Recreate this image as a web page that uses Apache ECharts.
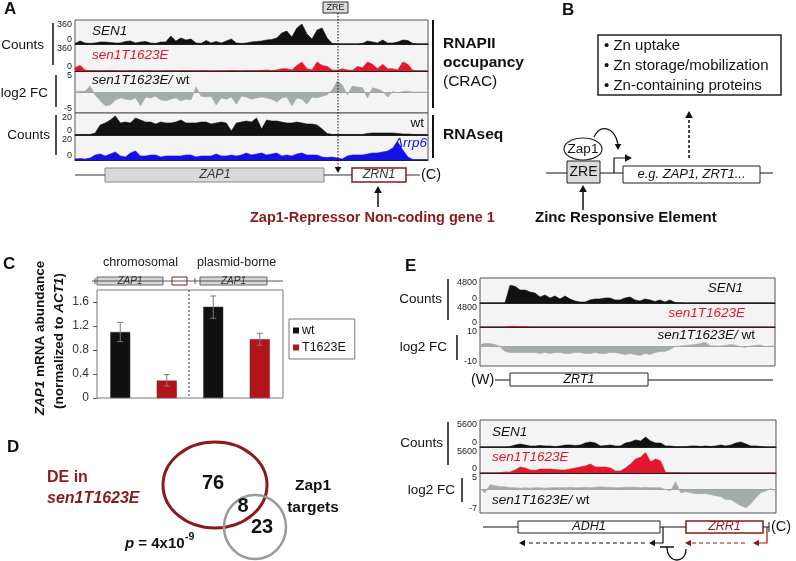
<!DOCTYPE html>
<html><head><meta charset="utf-8">
<script src="https://cdn.jsdelivr.net/npm/echarts@6/dist/echarts.min.js"></script>
<style>html,body{margin:0;padding:0;background:#fff}#c{width:796px;height:561px}</style>
</head><body><div id="c"></div>
<script>
// ---------------- DATA ----------------
// Panel A: ZAP1 locus tracks (evenly spaced bins, left to right)
const aCountTicks = [0, 360];
const aFcTicks = [-5, 5];
const aSeqTicks = [0, 20];
const aSen1 = [8,45,15,8,15,30,30,22,15,15,38,45,15,30,38,15,8,30,30,120,45,90,60,75,15,8,52,15,38,15,45,75,15,8,15,30,38,45,60,68,90,165,195,105,240,300,150,75,210,240,90,8,0,0,0,0,0,8,45,30,15,60,15,15,30,60,52,8,0,0,0];
const aSen1T = [45,75,15,5,3,0,5,8,3,0,0,5,3,0,5,3,0,0,3,5,0,3,8,5,0,3,5,0,0,3,5,8,3,0,5,3,5,8,15,5,15,30,30,15,75,120,30,15,120,75,60,15,8,30,15,8,60,45,120,90,30,90,30,30,15,120,90,8,0,0,0];
const aFc = [0.2,0.2,0.2,1.4,-0.7,-2.1,-3.3,-3.1,-1.9,-1.4,-1.7,-1.9,-1.4,-3.3,-1.2,-1.4,-1,-1.9,-2.1,-1.7,-1.4,-2.1,-1.7,-1.9,1.2,-1,-1.2,-1,-3.1,-1.4,-1.7,-1.2,-2.9,-1,-1.2,-1.7,-1.4,-1.2,-1.4,-1.7,-2.4,-1.4,-1.2,-3.3,-1.4,-1.7,-2.9,-1.2,-1.4,-1,-0.7,0.5,2.6,1.7,-0.7,1.4,1.2,1,-1.4,1,0.7,0.2,-1.2,0.1,-0.2,0.1,0.2,0,0,0,0];
const aWt = [0.3,0.5,0.5,0.5,1.8,9.1,10.9,13.6,17.3,10.9,11.8,10.9,15.5,13.6,11.8,11.8,10,11.8,10.9,10.9,11.8,13.6,10.9,10.9,10.9,11.8,11.8,10,10.9,11.8,10.9,3.6,10.9,11.8,12.7,11.8,15.5,5.5,13.6,12.7,12.7,11.8,10.9,10.9,11.8,10.9,10,10,9.1,5.5,1.4,0.5,0.5,0.5,0.5,0.5,0.5,0.5,1.4,1.8,1.8,1.8,1.8,1.8,1.4,0.9,0.9,0.5,0.5,0.5,0.5];
const aRrp6 = [0.8,1.2,0.8,1.6,4,4.8,3.2,4.8,6.4,3.2,2.4,5.6,7.2,3.2,3.2,4,4,2.4,3.2,3.2,3.2,3.2,4,4,2.4,3.2,3.2,3.2,4.8,3.2,3.2,4,3.2,4,5.6,4,4.8,5.6,4,4.8,5.6,3.2,4,3.2,4.8,5.6,4,4,4,2.4,2,2.4,1.6,0.8,3.2,4,4,4,4.8,5.6,5.6,6.4,7.2,9.6,14.4,8,2.4,0.4,0.4,0.4,0.4];

// Panel C: ZAP1 mRNA abundance
const cCategories = ['chromosomal wt', 'chromosomal T1623E', 'plasmid wt', 'plasmid T1623E'];
const cWt = [1.10, '-', 1.52, '-'];
const cMut = ['-', 0.29, '-', 0.98];
const cErrLow = [0.94, 0.20, 1.33, 0.88];
const cErrHigh = [1.26, 0.39, 1.70, 1.08];
const cAxis = [0, 1.8, 0.4];

// Panel D: Venn counts
const vennCounts = ['76', '8', '23'];

// Panel E (top): ZRT1 locus
const e1CountTicks = [0, 4800];
const e1FcTicks = [-10, 10];
const e1Sen1 = [0,0,0,0,0,0,3400,3200,2500,2500,2110,1920,1150,1540,960,1340,770,1340,770,380,190,190,580,770,770,960,960,580,580,960,1150,580,380,770,580,290,580,190,580,100,60,0,0,0,0,0,0,0,0,0,0,0,0,0,0,0,0,0,0,0];
const e1Mut = [0,0,0,0,0,0,130,150,100,100,0,0,0,0,0,0,0,0,0,0,0,0,0,0,0,0,0,0,0,0,0,0,0,0,0,0,0,0,0,0,0,0,0,0,0,0,0,0,0,0,0,0,0,0,0,0,0,0,0,0];
const e1Fc = [1,1.5,1.5,1,0,-2.6,-3.1,-3.1,-3.1,-3.1,-3.1,-3.1,-3.6,-3.1,-3.6,-3.1,-3.1,-3.6,-3.6,-3.1,-3.1,-3.6,-3.6,-3.1,-3.6,-3.6,-3.1,-3.1,-3.6,-4.1,-3.6,-4.1,-4.6,-3.6,-4.1,-3.1,-2.6,-2.6,-1.5,0,0.3,0.5,0.8,1,1.5,2.1,0.5,0.3,0.3,0.5,1,0.8,0,-0.5,0.3,0.5,0.8,0,0.3,0.3];

// Panel E (bottom): ADH1 / ZRR1 locus
const e2CountTicks = [0, 5600];
const e2FcTicks = [-7, 5];
const e2Sen1 = [0,0,0,0,0,0,100,410,620,410,210,210,310,210,210,60,210,410,410,310,410,830,1040,830,210,310,410,210,210,830,1040,1450,1240,2070,1240,830,830,210,210,60,60,60,210,210,100,210,100,210,410,210,410,830,1040,620,210,210,100,0,0,0];
const e2Mut = [0,0,0,0,60,220,220,650,1290,1080,650,540,860,860,860,750,650,650,860,1080,1290,1510,1940,1290,1290,1290,1080,430,430,1080,1940,3000,3400,4400,2400,3000,2600,110,60,110,0,0,0,0,0,0,0,0,0,0,0,0,0,0,0,0,0,0,0,0];
const e2Fc = [0.3,-0.9,1.5,1.2,0.9,0.9,0.6,0.6,0.45,0.6,0.45,0.6,0.6,0.45,0.6,0.6,0.6,0.6,0.75,0.6,0.6,0.75,0.6,0.75,0.9,0.75,0.75,0.6,0.6,0.75,0.75,0.75,0.6,0.75,0.6,0.6,0.6,0,-0.3,2.4,-0.9,-0.6,-0.9,-1.2,-1.2,-1.2,-1.5,-1.8,-2.1,-3,-3,-3.9,-4.8,-5.4,-4.2,-2.4,-0.9,-0.3,0.3,-0.3];

// ---------------- BUILD ----------------
const FONT = '"Liberation Sans", Arial, Helvetica, sans-serif';
const RED = '#e3162b', DRED = '#8b1a1a', BLUE = '#1212e8', GREY = '#a4aca8';
const grids = [], xAxes = [], yAxes = [], series = [];

function track(left, right, top, height, vals, ticks, color, isFc, lblSize) {
  const k = grids.length;
  const mn = ticks[0], mx = ticks[1];
  grids.push({left, right, top, height, show: true, backgroundColor: '#f4f4f4', borderColor: '#555', borderWidth: 1});
  xAxes.push({type: 'category', gridIndex: k, data: vals.map((_, i) => i), boundaryGap: false,
    axisLine: {show: true, onZero: true, lineStyle: {color: isFc ? '#a0a0a0' : '#222', width: 1}},
    axisTick: {show: false}, axisLabel: {show: false}, splitLine: {show: false}});
  yAxes.push({type: 'value', gridIndex: k, min: mn, max: mx, interval: isFc ? 1 : (mx - mn),
    axisLine: {show: false}, axisTick: {show: false}, splitLine: {show: false},
    axisLabel: {show: true, margin: 3, fontSize: lblSize || 9, color: '#222', fontFamily: FONT,
      showMinLabel: true, showMaxLabel: true,
      verticalAlignMinLabel: 'bottom', verticalAlignMaxLabel: 'top',
      formatter: v => (v === mn ? String(mn) : (v === mx ? String(mx) : ''))}});
  series.push({type: 'line', xAxisIndex: k, yAxisIndex: k, data: vals, symbol: 'none', silent: true,
    lineStyle: {color, width: 0.6}, areaStyle: {color, opacity: 1}, z: 2});
}

// Panel A tracks
track(75, 368, 20, 24, aSen1, aCountTicks, '#111', false);
track(75, 368, 44, 27, aSen1T, aCountTicks, RED, false);
track(75, 368, 71, 42, aFc, aFcTicks, GREY, true);
track(75, 368, 113, 22, aWt, aSeqTicks, '#111', false);
track(75, 368, 135, 25, aRrp6, aSeqTicks, BLUE, false);
// Panel E tracks
track(480, 21, 278, 25, e1Sen1, e1CountTicks, '#111', false);
track(480, 21, 303, 24, e1Mut, e1CountTicks, RED, false);
track(480, 21, 327, 39, e1Fc, e1FcTicks, GREY, true);
track(480, 20, 420, 27, e2Sen1, e2CountTicks, '#111', false);
track(480, 20, 447, 26, e2Mut, e2CountTicks, RED, false);
track(480, 20, 473, 40, e2Fc, e2FcTicks, GREY, true);

// Panel C bar chart
const ci = grids.length;
grids.push({left: 97, top: 290, width: 186, height: 108, show: true, borderColor: '#777', borderWidth: 1, backgroundColor: 'transparent'});
xAxes.push({type: 'category', gridIndex: ci, data: cCategories, axisLine: {show: false}, axisTick: {show: false}, axisLabel: {show: false}});
yAxes.push({type: 'value', gridIndex: ci, min: cAxis[0], max: cAxis[1], interval: cAxis[2],
  axisLine: {show: false}, splitLine: {show: false},
  axisTick: {show: true, length: 4, lineStyle: {color: '#555'}},
  axisLabel: {fontSize: 12, color: '#333', margin: 8, fontFamily: FONT, showMaxLabel: false,
    formatter: v => (v === 0 ? '0' : v.toFixed(1))}});
series.push({name: 'wt', type: 'bar', xAxisIndex: ci, yAxisIndex: ci, data: cWt, barWidth: 20, barGap: '-100%',
  itemStyle: {color: '#111', borderColor: '#333', borderWidth: 0.5}});
series.push({name: 'T1623E', type: 'bar', xAxisIndex: ci, yAxisIndex: ci, data: cMut, barWidth: 20, barGap: '-100%',
  itemStyle: {color: '#b3141c', borderColor: '#7a1010', borderWidth: 0.5}});
series.push({type: 'custom', xAxisIndex: ci, yAxisIndex: ci, z: 5, silent: true,
  data: cErrLow.map((l, i) => [i, l, cErrHigh[i]]),
  encode: {x: 0, y: [1, 2]},
  renderItem: (params, api) => {
    const x = api.value(0);
    const lo = api.coord([x, api.value(1)]);
    const hi = api.coord([x, api.value(2)]);
    const w = 3, st = {stroke: '#7a7a7a', lineWidth: 1};
    return {type: 'group', children: [
      {type: 'line', shape: {x1: lo[0], y1: lo[1], x2: hi[0], y2: hi[1]}, style: st},
      {type: 'line', shape: {x1: hi[0] - w, y1: hi[1], x2: hi[0] + w, y2: hi[1]}, style: st},
      {type: 'line', shape: {x1: lo[0] - w, y1: lo[1], x2: lo[0] + w, y2: lo[1]}, style: st}
    ]};
  }});

// ---------------- GRAPHIC ----------------
const G = [];
function txt(x, y, text, o) {
  G.push({type: 'text', x, y, z: 60, silent: true,
    style: Object.assign({text, fill: '#111', fontFamily: FONT, fontSize: 13.5, align: 'left', verticalAlign: 'middle'}, o || {})});
}
function ln(x1, y1, x2, y2, o) {
  G.push({type: 'line', z: 60, silent: true, shape: {x1, y1, x2, y2}, style: Object.assign({stroke: '#111', lineWidth: 1}, o || {})});
}
function rc(x, y, w, h, o) {
  G.push({type: 'rect', z: 55, silent: true, shape: {x, y, width: w, height: h}, style: Object.assign({fill: '#fff', stroke: '#111', lineWidth: 1}, o || {})});
}
function pl(points, o) {
  G.push({type: 'polyline', z: 60, silent: true, shape: {points}, style: Object.assign({stroke: '#111', lineWidth: 1, fill: null}, o || {})});
}
function el(cx, cy, rx, ry, o) {
  G.push({type: 'ellipse', z: 55, silent: true, shape: {cx, cy, rx, ry}, style: Object.assign({fill: null, stroke: '#111', lineWidth: 1}, o || {})});
}
function bz(x1, y1, cx1, cy1, cx2, cy2, x2, y2, o) {
  G.push({type: 'bezierCurve', z: 60, silent: true, shape: {x1, y1, cpx1: cx1, cpy1: cy1, cpx2: cx2, cpy2: cy2, x2, y2},
    style: Object.assign({stroke: '#111', lineWidth: 1, fill: null}, o || {})});
}
function ah(x, y, dir, s, color) {
  const w = s * 0.55;
  const pts = {up: [[x, y], [x - w, y + s], [x + w, y + s]], down: [[x, y], [x - w, y - s], [x + w, y - s]],
    left: [[x, y], [x + s, y - w], [x + s, y + w]], right: [[x, y], [x - s, y - w], [x - s, y + w]]}[dir];
  G.push({type: 'polygon', z: 61, silent: true, shape: {points: pts}, style: {fill: color || '#111'}});
}
const B = {fontWeight: 'bold'};
const I = {fontStyle: 'italic'};

// ---- Panel A ----
txt(4, 9, 'A', {fontWeight: 'bold', fontSize: 17});
rc(323, 2, 25, 11, {fill: '#dcdcdc', stroke: '#333'});
txt(335.5, 8, 'ZRE', {align: 'center', fontSize: 9});
ln(338, 13, 338, 167, {stroke: '#111', lineDash: [1.5, 1.5]});
ah(338, 173, 'down', 6);
txt(44, 45, 'Counts', {align: 'right'});
ln(53, 23, 53, 65, {lineWidth: 1.5});
txt(48, 93, 'log2 FC', {align: 'right'});
ln(56, 75, 56, 107, {lineWidth: 1.5});
txt(50, 135, 'Counts', {align: 'right'});
ln(56, 115, 56, 155, {lineWidth: 1.5});
txt(92, 31, 'SEN1', I);
txt(92, 55, 'sen1T1623E', {fontStyle: 'italic', fill: RED});
txt(92, 80, '{i|sen1T1623E/} wt', {rich: {i: {fontStyle: 'italic', fontSize: 13.5, fontFamily: FONT, fill: '#111'}}});
txt(424, 123, 'wt', {align: 'right'});
txt(427, 143, 'Δrrp6', {align: 'right', fontStyle: 'italic', fill: BLUE});
ln(433, 20, 433, 108, {lineWidth: 2});
txt(443, 44, 'RNAPII', {fontWeight: 'bold', fontSize: 15.5});
txt(443, 63, 'occupancy', {fontWeight: 'bold', fontSize: 15.5});
txt(443, 82, '(CRAC)', {fontSize: 15.5});
ln(433, 115, 433, 158, {lineWidth: 2});
txt(443, 135, 'RNAseq', {fontWeight: 'bold', fontSize: 15.5});
// gene diagram
ln(75, 175, 105, 175, {stroke: '#333'});
rc(105, 168, 219, 14, {fill: '#d9d9d9', stroke: '#888'});
txt(215, 175, 'ZAP1', {align: 'center', fontStyle: 'italic', fontSize: 12.5, fill: '#333'});
ln(324, 175, 352, 175, {stroke: '#333'});
rc(352, 168, 54, 14, {fill: '#fff', stroke: DRED, lineWidth: 1.5});
txt(379, 175, 'ZRN1', {align: 'center', fontStyle: 'italic', fontSize: 12.5, fill: '#333'});
ln(406, 175, 420, 175, {stroke: '#333'});
txt(421, 175, '(C)', {fontSize: 14.5});
ln(378, 207, 378, 191, {lineWidth: 1.5});
ah(378, 186, 'up', 7);
txt(250, 218, 'Zap1-Repressor Non-coding gene 1', {fontWeight: 'bold', fontSize: 14.5, fill: DRED});

// ---- Panel B ----
txt(562, 10, 'B', {fontWeight: 'bold', fontSize: 17});
rc(598, 35, 183, 60, {fill: null, stroke: '#222', lineWidth: 1.5});
txt(604, 46, '• Zn uptake', {fontSize: 15});
txt(604, 66, '• Zn storage/mobilization', {fontSize: 15});
txt(604, 86, '• Zn-containing proteins', {fontSize: 15});
ln(689, 158, 689, 118, {lineDash: [3, 2], lineWidth: 1.5});
ah(689, 111, 'up', 7);
ln(546, 173, 567, 173);
rc(567, 161, 33, 22, {fill: '#dcdcdc', stroke: '#222'});
txt(583.5, 172.5, 'ZRE', {align: 'center', fontSize: 14});
ln(600, 173, 623, 173);
pl([[614, 173], [614, 158], [626, 158]], {lineWidth: 1.2});
ah(632, 158, 'right', 7);
rc(623, 166, 137, 17, {fill: '#fff', stroke: '#222'});
txt(691.5, 174.5, 'e.g. ZAP1, ZRT1...', {align: 'center', fontStyle: 'italic', fontSize: 13});
ln(760, 173, 773, 173);
el(583, 149, 19, 11, {fill: '#fff', stroke: '#222', lineWidth: 1.2});
txt(583, 149, 'Zap1', {align: 'center', fontSize: 13.5});
bz(594, 137, 600, 124, 614, 126, 618, 144, {lineWidth: 1.2});
ah(618, 150, 'down', 6);
ln(583, 210, 583, 191, {lineWidth: 1.5});
ah(583, 185, 'up', 7);
txt(535, 218, 'Zinc Responsive Element', {fontWeight: 'bold', fontSize: 15});

// ---- Panel C ----
txt(3, 264, 'C', {fontWeight: 'bold', fontSize: 17});
txt(103, 263, 'chromosomal', {fontSize: 12.5, fill: '#222'});
txt(197, 263, 'plasmid-borne', {fontSize: 12.5, fill: '#222'});
ln(92, 281, 283, 281, {stroke: '#555'});
ln(95, 278, 95, 284, {stroke: '#555'});
rc(97, 277, 66, 8, {fill: '#d6d6d6', stroke: '#666'});
txt(130, 281, 'ZAP1', {align: 'center', fontStyle: 'italic', fontSize: 10, fill: '#333'});
rc(172, 277, 15, 8, {fill: '#fff', stroke: DRED});
ln(195, 278, 195, 284, {stroke: '#555'});
rc(200, 277, 67, 8, {fill: '#d6d6d6', stroke: '#666'});
txt(233.5, 281, 'ZAP1', {align: 'center', fontStyle: 'italic', fontSize: 10, fill: '#333'});
ln(189, 290, 189, 398, {stroke: '#333', lineDash: [2, 2]});
G.push({type: 'text', x: 40, y: 338, rotation: Math.PI / 2, z: 60, silent: true,
  style: {text: '{i|ZAP1} mRNA abundance', fontFamily: FONT, fontSize: 13.5, fontWeight: 'bold', fill: '#111', align: 'center', verticalAlign: 'middle',
    rich: {i: {fontStyle: 'italic', fontWeight: 'bold', fontSize: 13.5, fontFamily: FONT, fill: '#111'}}}});
G.push({type: 'text', x: 59, y: 341, rotation: Math.PI / 2, z: 60, silent: true,
  style: {text: '(normalized to {i|ACT1})', fontFamily: FONT, fontSize: 13.5, fontWeight: 'bold', fill: '#111', align: 'center', verticalAlign: 'middle',
    rich: {i: {fontStyle: 'italic', fontWeight: 'bold', fontSize: 13.5, fontFamily: FONT, fill: '#111'}}}});

// ---- Panel D ----
txt(7, 447, 'D', {fontWeight: 'bold', fontSize: 17});
el(215, 485, 52, 43, {stroke: DRED, lineWidth: 3});
el(255, 527, 31, 32, {stroke: '#999', lineWidth: 2.5});
txt(213, 483, vennCounts[0], {align: 'center', fontWeight: 'bold', fontSize: 20});
txt(243, 506, vennCounts[1], {align: 'center', fontWeight: 'bold', fontSize: 20});
txt(262, 527, vennCounts[2], {align: 'center', fontWeight: 'bold', fontSize: 20});
txt(47, 478, 'DE in', {fontWeight: 'bold', fontSize: 16, fill: DRED});
txt(47, 499, 'sen1T1623E', {fontWeight: 'bold', fontStyle: 'italic', fontSize: 16, fill: DRED});
txt(313, 486, 'Zap1', {align: 'center', fontWeight: 'bold', fontSize: 15.5});
txt(313, 508, 'targets', {align: 'center', fontWeight: 'bold', fontSize: 15.5});
txt(125, 544, '{i|p} = 4x10', {fontWeight: 'bold', fontSize: 15,
  rich: {i: {fontStyle: 'italic', fontWeight: 'bold', fontSize: 15, fontFamily: FONT, fill: '#111'}}});
txt(185, 537, '-9', {fontWeight: 'bold', fontSize: 10.5});

// ---- Panel E ----
txt(405, 266, 'E', {fontWeight: 'bold', fontSize: 17});
txt(442, 299, 'Counts', {align: 'right'});
ln(448, 279, 448, 320, {lineWidth: 1.5});
txt(447, 347, 'log2 FC', {align: 'right'});
ln(457, 335, 457, 360, {lineWidth: 1.5});
txt(743, 288, 'SEN1', {align: 'right', fontStyle: 'italic'});
txt(745, 313, 'sen1T1623E', {align: 'right', fontStyle: 'italic', fill: RED});
txt(755, 335, '{i|sen1T1623E/} wt', {align: 'right', rich: {i: {fontStyle: 'italic', fontSize: 13.5, fontFamily: FONT, fill: '#111'}}});
txt(471, 380, '(W)', {fontSize: 14.5});
ln(495, 380, 510, 380);
rc(510, 373, 138, 13, {fill: '#fff', stroke: '#222'});
txt(579, 379.5, 'ZRT1', {align: 'center', fontStyle: 'italic', fontSize: 12.5});
ln(648, 380, 773, 380);

txt(443, 443, 'Counts', {align: 'right'});
ln(448, 422, 448, 465, {lineWidth: 1.5});
txt(455, 490, 'log2 FC', {align: 'right'});
ln(462, 478, 462, 502, {lineWidth: 1.5});
txt(492, 432, 'SEN1', {fontStyle: 'italic'});
txt(492, 457, 'sen1T1623E', {fontStyle: 'italic', fill: RED});
txt(492, 500, '{i|sen1T1623E/} wt', {rich: {i: {fontStyle: 'italic', fontSize: 13.5, fontFamily: FONT, fill: '#111'}}});
ln(483, 527, 518, 527);
rc(518, 521, 142, 12, {fill: '#fff', stroke: '#222'});
txt(589, 527, 'ADH1', {align: 'center', fontStyle: 'italic', fontSize: 12.5});
ln(660, 527, 686, 527);
rc(686, 521, 77, 12, {fill: '#fff', stroke: DRED, lineWidth: 1.5});
txt(724.5, 527, 'ZRR1', {align: 'center', fontStyle: 'italic', fontSize: 12.5, fill: DRED});
ln(763, 527, 769, 527);
ln(769, 522, 769, 532);
txt(771, 527, '(C)', {fontSize: 14.5});
pl([[663, 527], [663, 543], [655, 543]], {lineWidth: 1.2});
ah(649, 543, 'left', 6);
ln(645, 543, 526, 543, {lineDash: [4, 3], lineWidth: 1.2});
ah(519, 543, 'left', 6);
pl([[767, 527], [767, 543], [759, 543]], {lineWidth: 1.2, stroke: DRED});
ah(753, 543, 'left', 6, DRED);
ln(745, 543, 692, 543, {lineDash: [4, 3], lineWidth: 1.2, stroke: DRED});
ah(685, 543, 'left', 6, DRED);
ln(660, 547, 674, 547, {lineWidth: 1.5});
bz(667, 547, 667, 564, 686, 564, 686, 549, {lineWidth: 1.3});

// ---------------- OPTION ----------------
const chart = echarts.init(document.getElementById('c'), null, {renderer: 'canvas'});
chart.setOption({
  animation: false,
  backgroundColor: '#fff',
  textStyle: {fontFamily: FONT},
  grid: grids, xAxis: xAxes, yAxis: yAxes, series,
  legend: {data: ['wt', 'T1623E'], orient: 'vertical', left: 289, top: 319, padding: [5, 9, 5, 4], itemGap: 4,
    icon: 'rect', itemWidth: 6, itemHeight: 6, itemStyle: {borderWidth: 0},
    borderColor: '#777', borderWidth: 1, textStyle: {fontSize: 12.5, color: '#111', fontFamily: FONT, padding: [0, 0, 0, -2]}},
  graphic: {elements: G}
});
</script></body></html>
